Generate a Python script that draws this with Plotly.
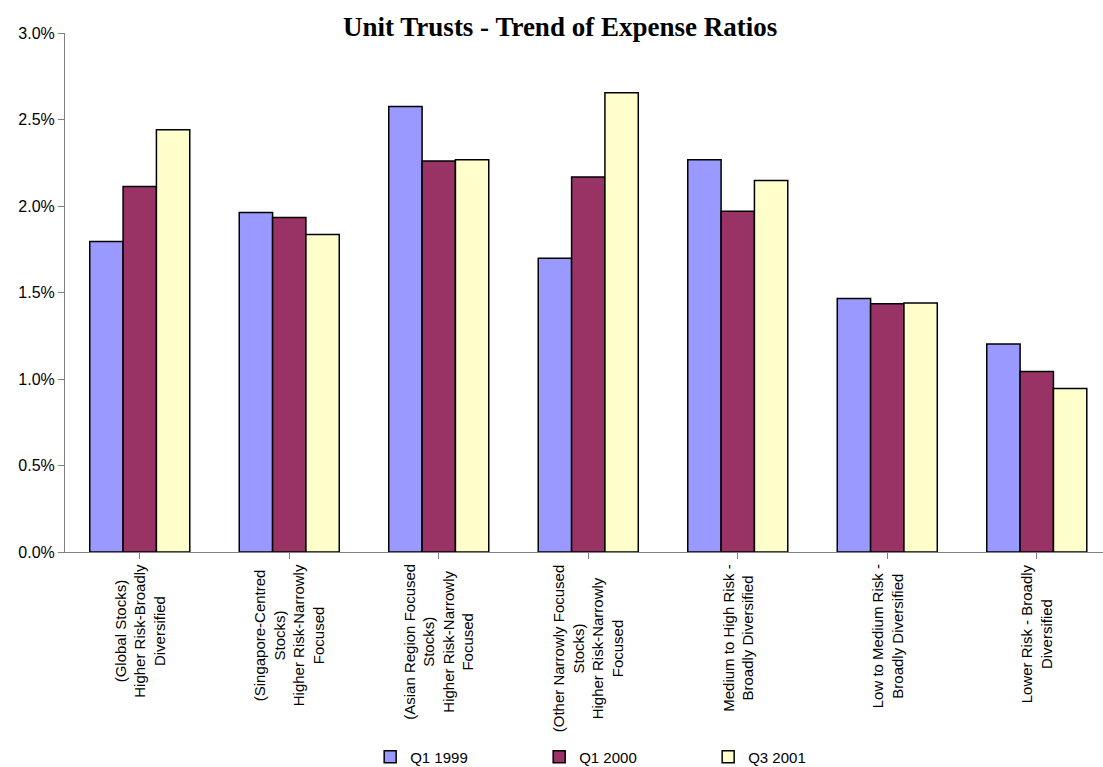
import plotly.graph_objects as go

# Fund categories (multi-line labels)
categories = [
    "(Global Stocks)<br>Higher Risk-Broadly<br>Diversified",
    "(Singapore-Centred<br>Stocks)<br>Higher Risk-Narrowly<br>Focused",
    "(Asian Region Focused<br>Stocks)<br>Higher Risk-Narrowly<br>Focused",
    "(Other Narrowly Focused<br>Stocks)<br>Higher Risk-Narrowly<br>Focused",
    "Medium to High Risk -<br>Broadly Diversified",
    "Low to Medium Risk -<br>Broadly Diversified",
    "Lower Risk - Broadly<br>Diversified",
]

# Expense ratios (fractions) per period
q1_1999 = [0.01795, 0.01962, 0.02575, 0.01698, 0.02268, 0.01466, 0.01202]
q1_2000 = [0.02112, 0.01933, 0.02260, 0.02168, 0.01969, 0.01435, 0.01043]
q3_2001 = [0.02441, 0.01835, 0.02268, 0.02654, 0.02147, 0.01439, 0.00945]

y_ticks = [0.0, 0.005, 0.01, 0.015, 0.02, 0.025, 0.03]

series = [
    ("Q1 1999", q1_1999, "#9999FF"),
    ("Q1 2000", q1_2000, "#993366"),
    ("Q3 2001", q3_2001, "#FFFFCC"),
]

sans = "Arial, Liberation Sans, sans-serif"
x_idx = list(range(len(categories)))

fig = go.Figure()
for name, vals, color in series:
    fig.add_trace(go.Bar(
        x=x_idx, y=vals, name=name,
        marker=dict(color=color, line=dict(color="#000000", width=1.5)),
    ))

# Rotated, centred category labels under each group
for i, lab in enumerate(categories):
    fig.add_annotation(
        x=i, y=0, xref="x", yref="paper",
        text=lab, textangle=-90, showarrow=False,
        xanchor="center", yanchor="top", yshift=-10,
        align="center",
        font=dict(family=sans, size=15, color="#000000"),
    )

fig.update_layout(
    width=1103, height=767,
    margin=dict(l=65, r=0, t=33, b=215, autoexpand=False),
    paper_bgcolor="white", plot_bgcolor="white",
    barmode="group", bargap=0.331, bargroupgap=0,
    title=dict(
        text="<b>Unit Trusts - Trend of Expense Ratios</b>",
        x=0.477, xref="paper", xanchor="center",
        y=0.966, yref="container", yanchor="middle",
        font=dict(family="Liberation Serif, Times New Roman, serif", size=27, color="#000000"),
    ),
    font=dict(family=sans, size=15, color="#000000"),
    showlegend=True,
    legend=dict(
        orientation="h", x=0.294, xanchor="left", y=-0.395, yanchor="middle",
        entrywidth=124, entrywidthmode="pixels",
        font=dict(family=sans, size=15, color="#000000"),
        traceorder="normal",
    ),
)

fig.update_xaxes(
    range=[-0.5, 6.443], showticklabels=False,
    tickmode="array", tickvals=x_idx, tickson="boundaries",
    ticks="outside", ticklen=6, tickcolor="#808080",
    showline=True, linecolor="#808080", linewidth=1,
    showgrid=False, zeroline=False,
)
fig.update_yaxes(
    range=[0, 0.03], tickvals=y_ticks, tickformat=".1%",
    ticks="outside", ticklen=6, tickcolor="#808080",
    showline=True, linecolor="#808080", linewidth=1,
    showgrid=False, zeroline=False,
    tickfont=dict(family=sans, size=16, color="#000000"),
)

fig.write_html("out.html")
